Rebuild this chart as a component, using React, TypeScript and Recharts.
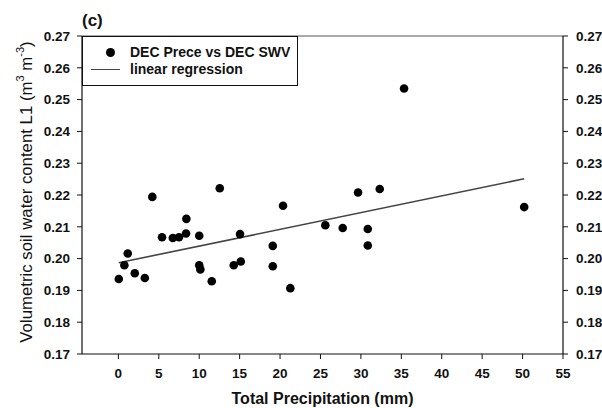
import React from 'react';
import { ComposedChart, Scatter, XAxis, YAxis, ReferenceLine, Legend } from 'recharts';

const precip = [0.05, 0.74, 1.16, 2.03, 3.27, 4.2, 5.4, 6.73, 7.5, 8.37, 8.41, 10.0, 10.0, 10.14, 11.55, 12.54, 14.27, 15.14, 15.05, 19.1, 19.1, 20.37, 21.27, 25.6, 27.75, 29.65, 30.85, 30.85, 32.33, 35.34, 50.2];
const swv = [0.1936, 0.1979, 0.2016, 0.1954, 0.1939, 0.2194, 0.2067, 0.2065, 0.2067, 0.2079, 0.2125, 0.2072, 0.1979, 0.1966, 0.1929, 0.2221, 0.1979, 0.1991, 0.2077, 0.2040, 0.1976, 0.2166, 0.1907, 0.2105, 0.2096, 0.2208, 0.2093, 0.2041, 0.2219, 0.2535, 0.2162];
const regX = [0.05, 50.2];
const regY = [0.1987, 0.2251];
const xTicks = [0, 5, 10, 15, 20, 25, 30, 35, 40, 45, 50, 55];
const yTicks = [0.17, 0.18, 0.19, 0.2, 0.21, 0.22, 0.23, 0.24, 0.25, 0.26, 0.27];

const points = precip.map((x, i) => ({ x, y: swv[i] }));
const regression = regX.map((x, i) => ({ x, y: regY[i] }));

const FONT = '"Liberation Sans", Arial, Helvetica, sans-serif';
const tickStyle = { fontSize: 13.5, fontWeight: 700, fill: '#111', fontFamily: FONT };

const Dot = (props: any) => {
  const { cx, cy } = props;
  if (cx == null || cy == null) return null;
  return <circle cx={cx} cy={cy} r={4.3} fill="#000" />;
};

const NoShape = () => null;

const LegendBox = () => (
  <div
    style={{
      position: 'relative',
      width: 216,
      height: 50,
      boxSizing: 'border-box',
      border: '1px solid #111',
      background: '#fff',
      fontFamily: FONT,
      fontWeight: 700,
      fontSize: 14,
      color: '#111',
    }}
  >
    <div style={{ position: 'absolute', left: 23, top: 11, width: 9, height: 9, borderRadius: '50%', background: '#000' }} />
    <div style={{ position: 'absolute', left: 47, top: 7, lineHeight: '16px', whiteSpace: 'nowrap' }}>DEC Prece vs DEC SWV</div>
    <div style={{ position: 'absolute', left: 8, top: 32, width: 29, height: 0, borderTop: '1.5px solid #444' }} />
    <div style={{ position: 'absolute', left: 47, top: 24, lineHeight: '16px', whiteSpace: 'nowrap' }}>linear regression</div>
  </div>
);

const XTitle = (props: any) => {
  const vb = props.viewBox || { x: 82, y: 354, width: 481 };
  return (
    <text x={vb.x + vb.width / 2} y={404} textAnchor="middle" fontSize={16} fontWeight={700} fill="#111" fontFamily={FONT}>
      Total Precipitation (mm)
    </text>
  );
};

const YTitle = () => (
  <text
    x={26}
    y={192}
    transform="rotate(-90, 26, 192)"
    textAnchor="middle"
    dominantBaseline="central"
    fontSize={16.8}
    fill="#111"
    fontFamily={FONT}
  >
    Volumetric soil water content L1 (m
    <tspan dy={-6} fontSize={11}>3</tspan>
    <tspan dy={6}> m</tspan>
    <tspan dy={-6} fontSize={11}>-3</tspan>
    <tspan dy={6}>)</tspan>
  </text>
);

export default function App() {
  return (
    <div style={{ position: 'absolute', left: 0, top: 0, width: 602, height: 408, background: '#fff' }}>
      <div style={{ position: 'absolute', left: 82, top: 11, fontFamily: FONT, fontWeight: 700, fontSize: 17, color: '#111' }}>(c)</div>
      <ComposedChart width={602} height={408} margin={{ top: 36, right: 0, bottom: 0, left: 0 }}>
        <XAxis
          type="number"
          dataKey="x"
          domain={[-4.5, 55]}
          ticks={xTicks}
          allowDataOverflow
          height={54}
          tickSize={5}
          tickMargin={9}
          tick={tickStyle}
          stroke="#111"
          axisLine={{ stroke: '#111', strokeWidth: 1.2 }}
          tickLine={{ stroke: '#111' }}
          label={<XTitle />}
        />
        <YAxis
          yAxisId="left"
          type="number"
          domain={[0.17, 0.27]}
          ticks={yTicks}
          allowDataOverflow
          width={82}
          tickSize={5}
          tickMargin={7}
          tick={tickStyle}
          tickFormatter={(v: number) => v.toFixed(2)}
          axisLine={{ stroke: '#111', strokeWidth: 1.2 }}
          tickLine={{ stroke: '#111' }}
          label={<YTitle />}
        />
        <YAxis
          yAxisId="right"
          orientation="right"
          type="number"
          domain={[0.17, 0.27]}
          ticks={yTicks}
          allowDataOverflow
          width={39}
          tickSize={5}
          tickMargin={8}
          tick={{ ...tickStyle, textAnchor: 'start' }}
          tickFormatter={(v: number) => v.toFixed(2)}
          axisLine={{ stroke: '#111', strokeWidth: 1.2 }}
          tickLine={{ stroke: '#111' }}
        />
        <ReferenceLine yAxisId="left" y={0.27} stroke="#555" strokeWidth={1.2} />
        <Scatter
          yAxisId="left"
          data={regression}
          dataKey="y"
          line={{ stroke: '#444', strokeWidth: 1.6 }}
          shape={<NoShape />}
          isAnimationActive={false}
          legendType="none"
        />
        <Scatter yAxisId="left" data={points} dataKey="y" shape={<Dot />} isAnimationActive={false} />
        <Legend
          layout="horizontal"
          verticalAlign="middle"
          align="center"
          content={<LegendBox />}
          wrapperStyle={{ position: 'absolute', left: 82, top: 35.5, width: 216, height: 50 }}
        />
      </ComposedChart>
    </div>
  );
}
